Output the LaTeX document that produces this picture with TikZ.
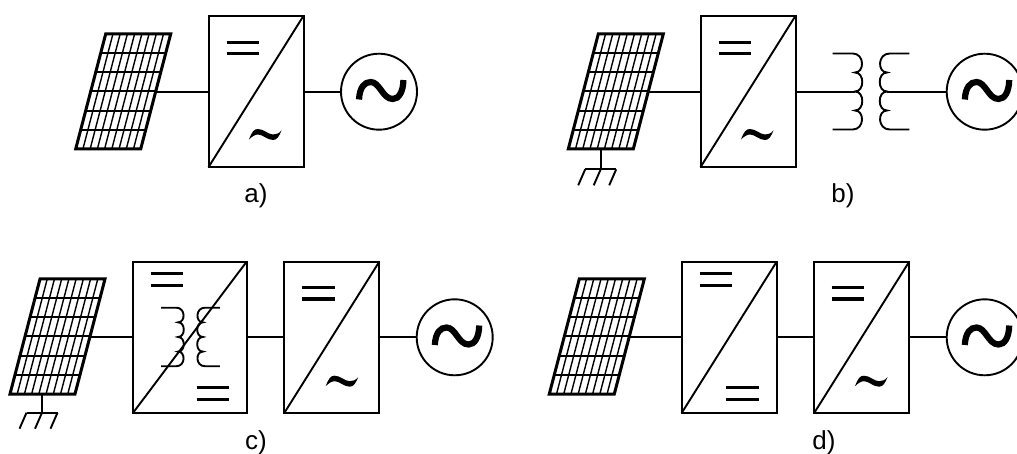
\documentclass[tikz,border=0pt]{standalone}
\usepackage{fontspec}
\setmainfont{Liberation Sans}
\begin{document}
\begin{tikzpicture}[x=1pt,y=-1pt,
  wire/.style={line width=1.9pt,black},
  convbox/.style={draw,rectangle,line width=2pt,inner sep=0pt,outer sep=0pt,minimum height=151.3pt},
  source/.style={draw,circle,line width=1.9pt,inner sep=0pt,outer sep=0pt,minimum size=76pt},
  caption/.style={font=\fontsize{26}{29}\selectfont,inner sep=0pt,text=black},
  solarpanel/.pic={
    \foreach \i in {1,...,8}{\draw[line width=1.4pt] ({65*\i/9},0) -- ({30+65*\i/9},-115);}
    \foreach \j/\yr in {1/19,2/38,3/58,4/77,5/96}{\draw[line width=2pt] ({30*\j/6},-\yr) -- ({65+30*\j/6},-\yr);}
    \draw[line width=3pt,line join=miter] (0,0) -- (30,-115) -- (95,-115) -- (65,0) -- cycle;
    \coordinate (-e) at (80,-57.5);
    \coordinate (-s) at (25,0);
  },
  earth/.pic={
    \draw[wire] (-15.5,0) -- (15.5,0);
    \foreach \k in {-15.5,0,15.5}{\draw[wire] (\k,0) -- (\k-7,16);}
  },
  dcbars/.pic={
    \draw[line width=3pt] (-16.3,-5.8) -- (16.3,-5.8);
    \draw[line width=3pt] (-16.3,5.8) -- (16.3,5.8);
  },
  smalltilde/.pic={
    \fill (-16,4.5) .. controls (-13,-3.5) and (-11,-6) .. (-7,-6)
      .. controls (-1,-6) and (3,-0.5) .. (8,-0.5)
      .. controls (11,-0.5) and (14,-1.5) .. (16.5,-4.5)
      .. controls (14,1.5) and (12,5) .. (8,5)
      .. controls (2,5) and (-2,-0.5) .. (-7,-0.5)
      .. controls (-10,-0.5) and (-13,1.5) .. (-16,4.5) -- cycle;
  },
  bigtilde/.pic={
    \draw[line width=6.2pt] (-21.7,9.5) .. controls (-21,-3) and (-16,-8) .. (-10,-8)
      .. controls (-1,-8) and (2,9) .. (12,9)
      .. controls (18,9) and (22.5,2) .. (22.7,-10);
  },
  transformer/.pic={
    \draw[wire] (0,0) -- (20,0) .. controls (32,0) and (32,19) .. (22.3,19)
      .. controls (32,19) and (32,38) .. (22.3,38)
      .. controls (32,38) and (32,57) .. (22.3,57)
      .. controls (32,57) and (32,76) .. (20,76) -- (0,76);
    \draw[wire] (76.6,0) -- (57,0) .. controls (44.6,0) and (44.6,19) .. (54.3,19)
      .. controls (44.6,19) and (44.6,38) .. (54.3,38)
      .. controls (44.6,38) and (44.6,57) .. (54.3,57)
      .. controls (44.6,57) and (44.6,76) .. (57,76) -- (76.6,76);
    \coordinate (-l) at (22.3,38);
    \coordinate (-r) at (54.3,38);
  }]
\useasboundingbox (0,0) rectangle (1017,454);
\clip (0,0) rectangle (1017,454);
\fill[white] (0,0) rectangle (1017,454);

% a)
\pic (pa) at (75.7,149) {solarpanel};
\node[convbox,minimum width=95pt] (ca) at (256,91.5) {};
\draw[wire] (ca.south west) -- (ca.north east);
\pic at (243,48) {dcbars};
\pic at (265,135) {smalltilde};
\node[source] (ga) at (379,91.7) {};
\pic at (380.7,90) {bigtilde};
\draw[wire] (pa-e |- ga) -- (ca.west |- ga);
\draw[wire] (ca.east |- ga) -- (ga);
\node[caption] (la) at (256,196) {a)};

% b)
\pic (pb) at (568.3,149) {solarpanel};
\node[convbox,minimum width=95pt] (cb) at (748,91.5) {};
\draw[wire] (cb.south west) -- (cb.north east);
\pic at (735,48) {dcbars};
\pic at (757,135) {smalltilde};
\pic (tb) at (832.7,53.5) {transformer};
\node[source] (gb) at (984.7,91.7) {};
\pic at (986.5,90) {bigtilde};
\draw[wire] (pb-e |- gb) -- (cb.west |- gb);
\draw[wire] (cb.east |- gb) -- (tb-l |- gb);
\draw[wire] (tb-r |- gb) -- (gb);
\coordinate (eb) at (600.7,169.3);
\draw[wire] (pb-s -| eb) -- (eb);
\pic at (eb) {earth};
\node[caption] (lb) at (843,196) {b)};

% c)
\pic (pc) at (10,394) {solarpanel};
\node[convbox,minimum width=113.7pt] (cc) at (189.8,337.3) {};
\draw[wire] (cc.south west) -- (cc.north east);
\pic at (167,279.7) {dcbars};
\pic at (213,393.5) {dcbars};
\pic[scale=0.77] (tc) at (161,307.7) {transformer};
\node[convbox,minimum width=95pt] (dc) at (331.8,337.3) {};
\draw[wire] (dc.south west) -- (dc.north east);
\pic at (318.7,293.2) {dcbars};
\pic at (341.7,381.7) {smalltilde};
\node[source] (gc) at (454.7,337.3) {};
\pic at (456.5,335.5) {bigtilde};
\draw[wire] (pc-e |- gc) -- (cc.west |- gc);
\draw[wire] (cc.east) -- (dc.west);
\draw[wire] (dc.east) -- (gc);
\coordinate (ec) at (42,412.7);
\draw[wire] (pc-s -| ec) -- (ec);
\pic at (ec) {earth};
\node[caption] (lc) at (256,442.5) {c)};

% d)
\pic (pd) at (549.3,394) {solarpanel};
\node[convbox,minimum width=95pt] (cd) at (729.2,337.3) {};
\draw[wire] (cd.south west) -- (cd.north east);
\pic at (715.8,279.7) {dcbars};
\pic at (742.5,393.5) {dcbars};
\node[convbox,minimum width=95pt] (dd) at (861.7,337.3) {};
\draw[wire] (dd.south west) -- (dd.north east);
\pic at (848,293.2) {dcbars};
\pic at (871,381.7) {smalltilde};
\node[source] (gd) at (984.7,337.3) {};
\pic at (986.5,335.5) {bigtilde};
\draw[wire] (pd-e |- gd) -- (cd.west |- gd);
\draw[wire] (cd.east) -- (dd.west);
\draw[wire] (dd.east) -- (gd);
\node[caption] (ld) at (824,442.5) {d)};
\end{tikzpicture}
\end{document}
